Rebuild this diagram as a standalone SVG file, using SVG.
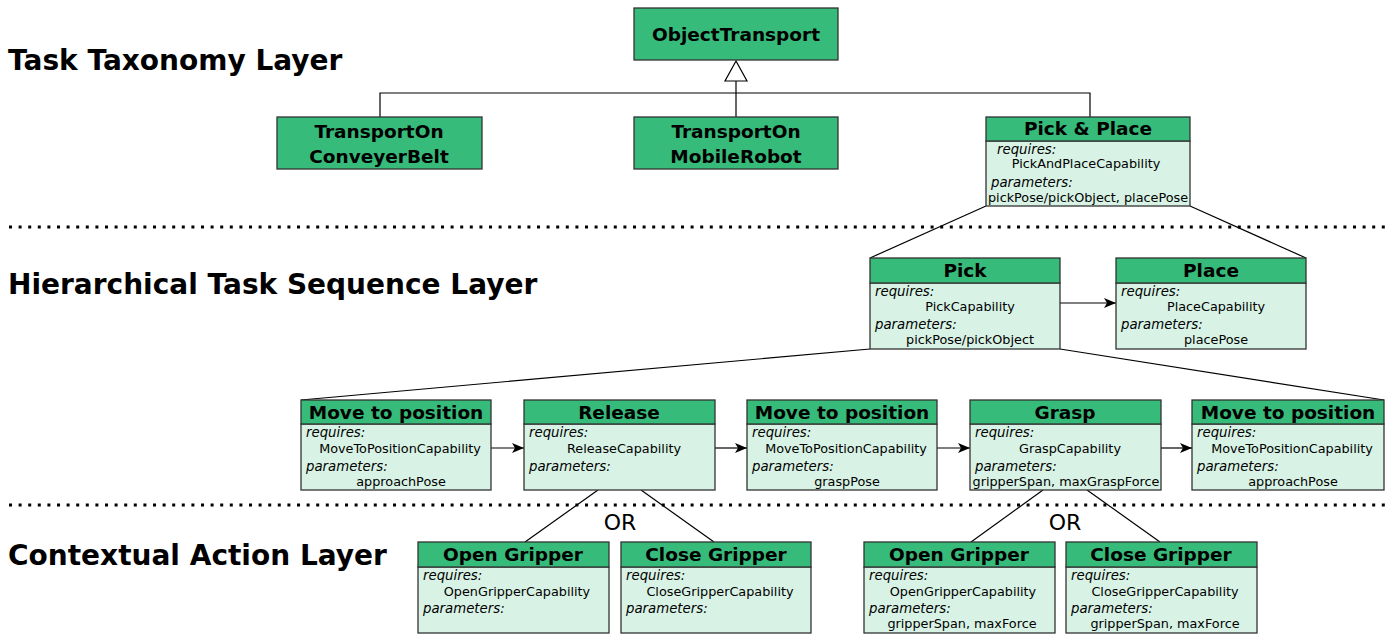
<svg xmlns="http://www.w3.org/2000/svg" width="1395" height="635" viewBox="0 0 1395 635">
<defs>
<style>
.hd{fill:#36bb7a;stroke:#333;stroke-width:1.3}
.bd{fill:#d8f3e5;stroke:#333;stroke-width:1.3}
.ht{font-family:"DejaVu Sans",Verdana,sans-serif;font-weight:bold;font-size:18.5px;fill:#000;text-anchor:middle}
.lt{font-family:"DejaVu Sans",Verdana,sans-serif;font-weight:bold;font-size:28px;fill:#000}
.it{font-family:"DejaVu Sans",Verdana,sans-serif;font-style:italic;font-size:13.3px;fill:#000}
.vt{font-family:"DejaVu Sans",Verdana,sans-serif;font-size:12.8px;fill:#000;text-anchor:middle}
.ln{stroke:#000;stroke-width:1.2;fill:none}
.dot{stroke:#000;stroke-width:3;stroke-dasharray:3 6.6}
.or{font-family:"DejaVu Sans",Verdana,sans-serif;font-size:22px;fill:#000;text-anchor:middle}
</style>
<marker id="ar" viewBox="0 0 12 10" refX="12" refY="5" markerWidth="12" markerHeight="10" markerUnits="userSpaceOnUse" orient="auto">
<path d="M0,0 L12,5 L0,10 L3,5 Z" fill="#000"/>
</marker>
</defs>
<rect width="1395" height="635" fill="#fff"/>

<g id="layers">
<text class="lt" x="8" y="70">Task Taxonomy Layer</text>
<text class="lt" x="8" y="294">Hierarchical Task Sequence Layer</text>
<text class="lt" x="8" y="565">Contextual Action Layer</text>
<line class="dot" x1="9" y1="227" x2="1386" y2="227"/>
<line class="dot" x1="9" y1="505" x2="1386" y2="505"/>
</g>

<g id="connectors">
<polyline class="ln" points="380,117 380,93 1090,93 1090,117"/>
<line class="ln" x1="736" y1="117" x2="736" y2="81"/>
<path d="M736,61 L725,81 L747,81 Z" fill="#fff" stroke="#000" stroke-width="1.2"/>
<line class="ln" x1="986" y1="206" x2="870" y2="258"/>
<line class="ln" x1="1190" y1="206" x2="1306" y2="258"/>
<line class="ln" x1="1060" y1="303" x2="1116" y2="303" marker-end="url(#ar)"/>
<line class="ln" x1="870" y1="349" x2="301" y2="400"/>
<line class="ln" x1="1060" y1="349" x2="1384" y2="400"/>
<line class="ln" x1="491" y1="448" x2="524" y2="448" marker-end="url(#ar)"/>
<line class="ln" x1="715" y1="448" x2="747" y2="448" marker-end="url(#ar)"/>
<line class="ln" x1="937" y1="448" x2="970" y2="448" marker-end="url(#ar)"/>
<line class="ln" x1="1161" y1="448" x2="1192" y2="448" marker-end="url(#ar)"/>
<line class="ln" x1="598" y1="490" x2="525" y2="542"/>
<line class="ln" x1="641" y1="490" x2="714" y2="542"/>
<line class="ln" x1="1043" y1="490" x2="971" y2="542"/>
<line class="ln" x1="1087" y1="490" x2="1160" y2="542"/>
<text class="or" x="620" y="530">OR</text>
<text class="or" x="1065" y="530">OR</text>
</g>

<g id="objectTransport">
<rect class="hd" x="634" y="8" width="204" height="52"/>
<text class="ht" x="736" y="41">ObjectTransport</text>
</g>
<g id="transportConveyer">
<rect class="hd" x="277" y="117" width="205" height="52"/>
<text class="ht" x="379" y="138">TransportOn</text>
<text class="ht" x="379" y="163">ConveyerBelt</text>
</g>
<g id="transportMobile">
<rect class="hd" x="634" y="117" width="204" height="52"/>
<text class="ht" x="736" y="138">TransportOn</text>
<text class="ht" x="736" y="163">MobileRobot</text>
</g>
<g id="pickPlace">
<rect class="bd" x="986" y="141" width="204" height="65"/>
<rect class="hd" x="986" y="117" width="204" height="24"/>
<text class="ht" x="1088" y="135">Pick &amp; Place</text>
<text class="it" x="997" y="154">requires:</text>
<text class="vt" x="1086" y="168">PickAndPlaceCapability</text>
<text class="it" x="991" y="187">parameters:</text>
<text class="vt" x="1088" y="202">pickPose/pickObject, placePose</text>
</g>

<g id="pick">
<rect class="bd" x="870" y="283" width="190" height="66"/>
<rect class="hd" x="870" y="258" width="190" height="25"/>
<text class="ht" x="965" y="277">Pick</text>
<text class="it" x="875" y="296">requires:</text>
<text class="vt" x="970" y="311">PickCapability</text>
<text class="it" x="875" y="329">parameters:</text>
<text class="vt" x="970" y="344">pickPose/pickObject</text>
</g>
<g id="place">
<rect class="bd" x="1116" y="283" width="190" height="66"/>
<rect class="hd" x="1116" y="258" width="190" height="25"/>
<text class="ht" x="1211" y="277">Place</text>
<text class="it" x="1121" y="296">requires:</text>
<text class="vt" x="1216" y="311">PlaceCapability</text>
<text class="it" x="1121" y="329">parameters:</text>
<text class="vt" x="1216" y="344">placePose</text>
</g>

<g id="move1">
<rect class="bd" x="301" y="424" width="190" height="66"/>
<rect class="hd" x="301" y="400" width="190" height="24"/>
<text class="ht" x="396" y="419">Move to position</text>
<text class="it" x="306" y="437">requires:</text>
<text class="vt" x="400" y="453">MoveToPositionCapability</text>
<text class="it" x="306" y="471">parameters:</text>
<text class="vt" x="401" y="486">approachPose</text>
</g>
<g id="release">
<rect class="bd" x="524" y="424" width="191" height="66"/>
<rect class="hd" x="524" y="400" width="191" height="24"/>
<text class="ht" x="619" y="419">Release</text>
<text class="it" x="529" y="437">requires:</text>
<text class="vt" x="624" y="453">ReleaseCapability</text>
<text class="it" x="529" y="471">parameters:</text>
</g>
<g id="move2">
<rect class="bd" x="747" y="424" width="190" height="66"/>
<rect class="hd" x="747" y="400" width="190" height="24"/>
<text class="ht" x="842" y="419">Move to position</text>
<text class="it" x="752" y="437">requires:</text>
<text class="vt" x="846" y="453">MoveToPositionCapability</text>
<text class="it" x="752" y="471">parameters:</text>
<text class="vt" x="847" y="486">graspPose</text>
</g>
<g id="grasp">
<rect class="bd" x="970" y="424" width="191" height="66"/>
<rect class="hd" x="970" y="400" width="191" height="24"/>
<text class="ht" x="1065" y="419">Grasp</text>
<text class="it" x="975" y="437">requires:</text>
<text class="vt" x="1070" y="453">GraspCapability</text>
<text class="it" x="975" y="471">parameters:</text>
<text class="vt" x="1066" y="486">gripperSpan, maxGraspForce</text>
</g>
<g id="move3">
<rect class="bd" x="1192" y="424" width="192" height="66"/>
<rect class="hd" x="1192" y="400" width="192" height="24"/>
<text class="ht" x="1288" y="419">Move to position</text>
<text class="it" x="1197" y="437">requires:</text>
<text class="vt" x="1292" y="453">MoveToPositionCapability</text>
<text class="it" x="1197" y="471">parameters:</text>
<text class="vt" x="1293" y="486">approachPose</text>
</g>

<g id="openGripper1">
<rect class="bd" x="418" y="567" width="191" height="66"/>
<rect class="hd" x="418" y="542" width="191" height="25"/>
<text class="ht" x="513" y="561">Open Gripper</text>
<text class="it" x="423" y="580">requires:</text>
<text class="vt" x="517" y="596">OpenGripperCapability</text>
<text class="it" x="423" y="613">parameters:</text>
</g>
<g id="closeGripper1">
<rect class="bd" x="621" y="567" width="190" height="66"/>
<rect class="hd" x="621" y="542" width="190" height="25"/>
<text class="ht" x="716" y="561">Close Gripper</text>
<text class="it" x="626" y="580">requires:</text>
<text class="vt" x="720" y="596">CloseGripperCapability</text>
<text class="it" x="626" y="613">parameters:</text>
</g>
<g id="openGripper2">
<rect class="bd" x="864" y="567" width="191" height="66"/>
<rect class="hd" x="864" y="542" width="191" height="25"/>
<text class="ht" x="959" y="561">Open Gripper</text>
<text class="it" x="869" y="580">requires:</text>
<text class="vt" x="963" y="596">OpenGripperCapability</text>
<text class="it" x="869" y="613">parameters:</text>
<text class="vt" x="962" y="628">gripperSpan, maxForce</text>
</g>
<g id="closeGripper2">
<rect class="bd" x="1066" y="567" width="191" height="66"/>
<rect class="hd" x="1066" y="542" width="191" height="25"/>
<text class="ht" x="1161" y="561">Close Gripper</text>
<text class="it" x="1071" y="580">requires:</text>
<text class="vt" x="1165" y="596">CloseGripperCapability</text>
<text class="it" x="1071" y="613">parameters:</text>
<text class="vt" x="1165" y="628">gripperSpan, maxForce</text>
</g>
</svg>
